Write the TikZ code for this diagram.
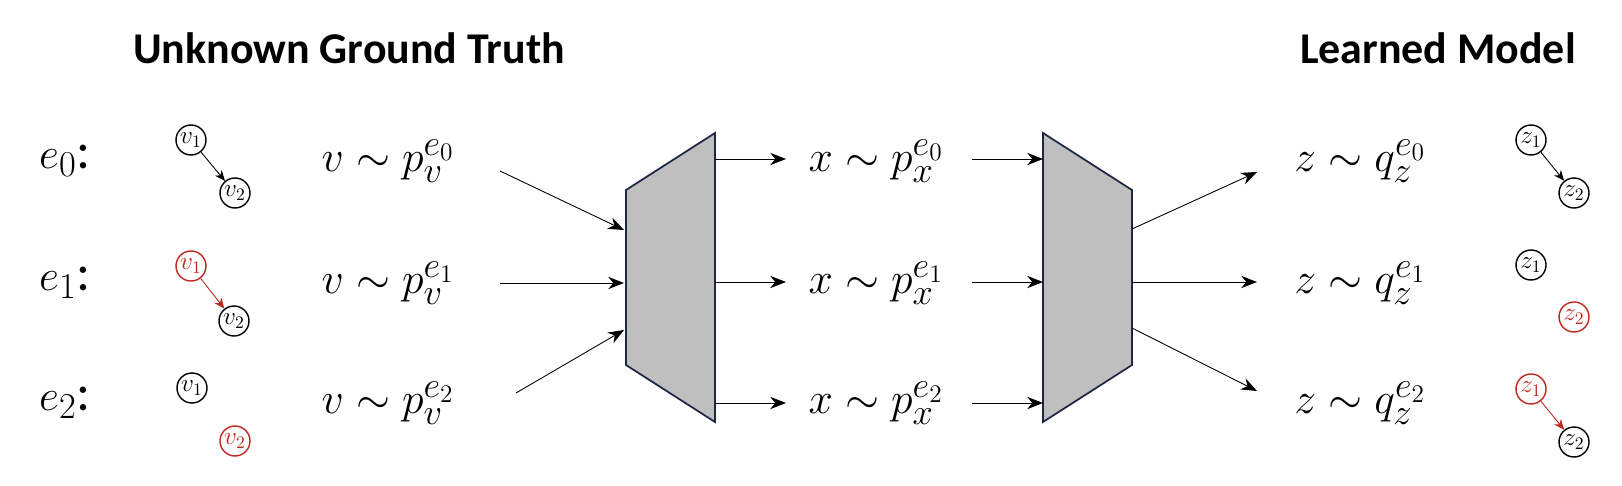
\documentclass[tikz,border=0pt]{standalone}
\usepackage{fontspec}
\setmainfont{Carlito}
\usetikzlibrary{arrows.meta}
\definecolor{dred}{RGB}{190,40,30}
\definecolor{navy}{RGB}{30,40,70}
\begin{document}
\begin{tikzpicture}[x=0.02cm,y=-0.02cm,
  gn/.style={circle,draw,line width=0.8pt,minimum size=30*0.02cm,inner sep=0pt,font=\fontsize{14}{14}\selectfont},
  rd/.style={draw=dred,text=dred},
  arr/.style={-{Stealth[length=9pt,width=7pt]},line width=0.5pt},
  sarr/.style={-{Stealth[length=6pt,width=5pt]},line width=0.5pt},
  lab/.style={font=\fontsize{30}{30}\selectfont},
  ttl/.style={font=\bfseries\fontsize{25}{25}\selectfont},
  trap/.style={draw=navy,fill=gray!50,line width=1pt}]
\useasboundingbox (0,0) rectangle (1622,486);
\node[ttl] (t1) at (349,48) {Unknown Ground Truth};
\node[ttl] (t2) at (1438,48) {Learned Model};
\foreach \i/\y in {0/161,1/283,2/403}{
  \node[lab] (e\i) at (65,\y) {$e_{\i}$:};
  \node[lab] (v\i) at (388,\y) {$v\sim p_v^{e_{\i}}$};
  \node[lab] (x\i) at (876,\y) {$x\sim p_x^{e_{\i}}$};
  \node[lab] (z\i) at (1360,\y) {$z\sim q_z^{e_{\i}}$};
}
% graphs
\node[gn] (a1) at (191,140) {$v_1$};
\node[gn] (a2) at (235,193) {$v_2$};
\draw[sarr] (a1) -- (a2);
\node[gn,rd] (b1) at (191,266) {$v_1$};
\node[gn] (b2) at (234,321) {$v_2$};
\draw[sarr,dred] (b1) -- (b2);
\node[gn] (c1) at (192,388) {$v_1$};
\node[gn,rd] (c2) at (235,441) {$v_2$};
\node[gn] (d1) at (1531,140) {$z_1$};
\node[gn] (d2) at (1574,193) {$z_2$};
\draw[sarr] (d1) -- (d2);
\node[gn] (f1) at (1531,265) {$z_1$};
\node[gn,rd] (f2) at (1574,317) {$z_2$};
\node[gn,rd] (g1) at (1531,389) {$z_1$};
\node[gn] (g2) at (1574,442) {$z_2$};
\draw[sarr,dred] (g1) -- (g2);
% trapezoids
\draw[trap] (626,190) -- (715,133) -- (715,422) -- (626,365) -- cycle;
\draw[trap] (1043,133) -- (1132,190) -- (1132,365) -- (1043,422) -- cycle;
\coordinate (i0s) at (500,171); \coordinate (i0e) at (624,230);
\coordinate (i1s) at (500,283); \coordinate (i1e) at (624,283);
\coordinate (i2s) at (516,393); \coordinate (i2e) at (624,330);
\foreach \k in {0,1,2}{\draw[arr] (i\k s) -- (i\k e);}
\foreach \k/\y in {0/159,1/282,2/403}{
  \coordinate (m\k a) at (715,\y); \coordinate (m\k b) at (786,\y);
  \coordinate (n\k a) at (972,\y); \coordinate (n\k b) at (1043,\y);
  \draw[arr] (m\k a) -- (m\k b);
  \draw[arr] (n\k a) -- (n\k b);
}
\coordinate (o0s) at (1132,229); \coordinate (o0e) at (1257,172);
\coordinate (o1s) at (1132,282); \coordinate (o1e) at (1257,282);
\coordinate (o2s) at (1132,328); \coordinate (o2e) at (1257,391);
\foreach \k in {0,1,2}{\draw[arr] (o\k s) -- (o\k e);}
\end{tikzpicture}
\end{document}
